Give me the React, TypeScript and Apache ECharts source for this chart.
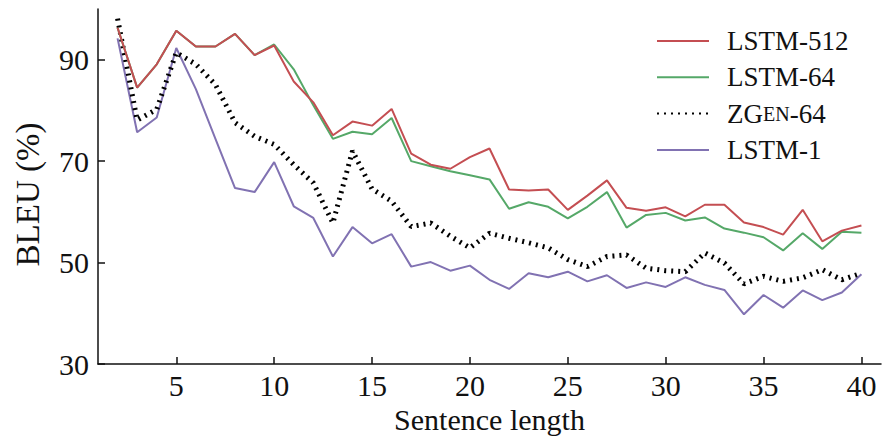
import React, { useEffect, useRef } from "react";
import * as echarts from "echarts";

const categories: string[] = [
  "1", "2", "3", "4", "5", "6", "7", "8", "9", "10",
  "11", "12", "13", "14", "15", "16", "17", "18", "19", "20",
  "21", "22", "23", "24", "25", "26", "27", "28", "29", "30",
  "31", "32", "33", "34", "35", "36", "37", "38", "39", "40", "41",
];

const lengths: number[] = [
  2, 3, 4, 5, 6, 7, 8, 9, 10, 11, 12, 13, 14, 15, 16, 17, 18, 19, 20, 21,
  22, 23, 24, 25, 26, 27, 28, 29, 30, 31, 32, 33, 34, 35, 36, 37, 38, 39, 40,
];

const lstm512: number[] = [
  96.3, 84.5, 89.1, 95.7, 92.6, 92.6, 95.1, 90.9, 92.8, 85.7, 81.6, 75.1, 77.8,
  77.0, 80.3, 71.5, 69.3, 68.5, 70.8, 72.5, 64.4, 64.2, 64.4, 60.4, 63.2, 66.2,
  60.8, 60.2, 60.9, 59.1, 61.4, 61.4, 57.9, 57.0, 55.5, 60.4, 54.2, 56.3, 57.3,
];

const lstm64: number[] = [
  96.3, 84.5, 89.1, 95.7, 92.6, 92.6, 95.1, 90.9, 93.0, 88.1, 81.0, 74.4, 75.8,
  75.3, 78.5, 70.0, 69.0, 68.0, 67.2, 66.4, 60.6, 61.9, 61.0, 58.7, 61.0, 63.9,
  56.9, 59.4, 59.8, 58.3, 58.9, 56.7, 55.9, 55.0, 52.4, 55.8, 52.7, 56.1, 55.9,
];

const zgen64: number[] = [
  98.1, 78.1, 80.2, 91.4, 89.1, 85.1, 77.6, 74.9, 73.3, 69.3, 65.7, 57.8, 72.0,
  64.5, 62.1, 57.1, 57.8, 55.2, 52.9, 55.8, 54.8, 53.9, 52.9, 50.6, 49.2, 51.2,
  51.5, 48.9, 48.4, 48.2, 51.9, 49.9, 45.8, 47.3, 46.3, 47.0, 48.6, 46.6, 47.9,
];

const lstm1: number[] = [
  94.2, 75.7, 78.6, 92.3, 84.2, 74.4, 64.7, 63.9, 69.8, 61.1, 58.8, 51.2, 57.0,
  53.8, 55.6, 49.2, 50.1, 48.4, 49.4, 46.6, 44.8, 47.9, 47.1, 48.2, 46.3, 47.5,
  45.0, 46.1, 45.2, 47.1, 45.6, 44.6, 39.8, 43.6, 41.1, 44.5, 42.6, 44.1, 47.7,
];

const seriesNames = ["LSTM-512", "LSTM-64", "ZGen-64", "LSTM-1"];

const FONT = "Liberation Serif";

function pairs(values: number[]) {
  return lengths.map((x, i) => [String(x), values[i]]);
}

export default function App() {
  const ref = useRef<HTMLDivElement>(null);

  useEffect(() => {
    document.body.style.margin = "0";
    if (!ref.current) return;
    const chart = echarts.init(ref.current, undefined, { renderer: "svg" });
    const showFive = (_i: number, v: string) => Number(v) % 5 === 0;
    chart.setOption({
      animation: false,
      backgroundColor: "#fff",
      textStyle: { fontFamily: FONT, color: "#111" },
      grid: {
        left: 98,
        right: 1,
        top: 9,
        bottom: 72,
        containLabel: false,
        outerBoundsMode: "none",
      },
      legend: {
        data: seriesNames,
        orient: "vertical",
        left: 651,
        top: 22,
        itemWidth: 52,
        itemHeight: 14,
        itemGap: 8.3,
        itemStyle: { opacity: 0 },
        formatter: (name: string) =>
          name === "ZGen-64" ? "{a|ZG}{b|EN}{a|-64}" : name,
        textStyle: {
          fontFamily: FONT,
          fontSize: 27,
          lineHeight: 28,
          color: "#111",
          padding: [0, 0, 0, 13],
          rich: {
            a: { fontFamily: FONT, fontSize: 27, lineHeight: 28, color: "#111" },
            b: { fontFamily: FONT, fontSize: 20, lineHeight: 28, color: "#111" },
          },
        },
      },
      xAxis: {
        type: "category",
        data: categories,
        boundaryGap: false,
        name: "Sentence length",
        nameLocation: "middle",
        nameGap: 38,
        nameTextStyle: {
          fontFamily: FONT,
          fontSize: 30,
          lineHeight: 26,
          color: "#111",
        },
        axisLine: { lineStyle: { color: "#111", width: 1.5 } },
        axisTick: {
          inside: true,
          length: 7,
          interval: showFive,
          lineStyle: { color: "#111", width: 1.5 },
        },
        axisLabel: {
          interval: showFive,
          margin: 6,
          fontFamily: FONT,
          fontSize: 30,
          color: "#111",
        },
        splitLine: { show: false },
      },
      yAxis: {
        type: "value",
        min: 30,
        max: 100,
        interval: 20,
        name: "BLEU (%)",
        nameLocation: "middle",
        nameGap: 54,
        nameTextStyle: {
          fontFamily: FONT,
          fontSize: 33,
          color: "#111",
          padding: [0, 16, 0, 0],
        },
        axisLine: { show: true, lineStyle: { color: "#111", width: 1.5 } },
        axisTick: {
          show: true,
          inside: true,
          length: 7,
          lineStyle: { color: "#111", width: 1.5 },
        },
        axisLabel: {
          margin: 9,
          showMaxLabel: false,
          fontFamily: FONT,
          fontSize: 30,
          color: "#111",
        },
        splitLine: { show: false },
      },
      series: [
        {
          name: "LSTM-1",
          type: "line",
          data: pairs(lstm1),
          symbol: "none",
          z: 2,
          lineStyle: { color: "#8172B2", width: 2 },
          itemStyle: { color: "#8172B2" },
        },
        {
          name: "ZGen-64",
          type: "line",
          data: pairs(zgen64),
          symbol: "none",
          z: 3,
          lineStyle: { color: "#000", width: 5, type: [2, 5], cap: "butt" },
          itemStyle: { color: "#000" },
        },
        {
          name: "LSTM-64",
          type: "line",
          data: pairs(lstm64),
          symbol: "none",
          z: 4,
          lineStyle: { color: "#55A868", width: 2 },
          itemStyle: { color: "#55A868" },
        },
        {
          name: "LSTM-512",
          type: "line",
          data: pairs(lstm512),
          symbol: "none",
          z: 5,
          lineStyle: { color: "#C44E52", width: 2 },
          itemStyle: { color: "#C44E52" },
        },
      ],
    });
    return () => chart.dispose();
  }, []);

  return <div ref={ref} style={{ width: 882, height: 436 }} />;
}
